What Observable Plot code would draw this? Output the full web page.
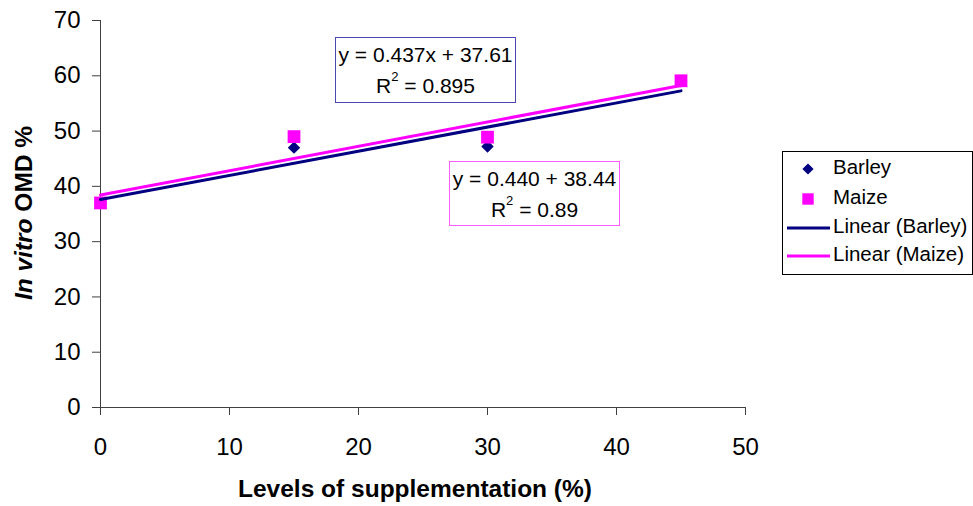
<!DOCTYPE html>
<html>
<head>
<meta charset="utf-8">
<script src="https://cdn.jsdelivr.net/npm/d3@7"></script>
<script src="https://cdn.jsdelivr.net/npm/@observablehq/plot@0.6"></script>
<style>
  html, body { margin: 0; padding: 0; background: #fff; }
  #chart svg { display: block; }
</style>
</head>
<body>
<div id="chart"></div>
<script>
// Supplementation levels (%) and in vitro OMD (%) for each supplement
const levels = [0, 15, 30, 45];
const barley = [37, 47, 47.2, 59];
const maize = [37, 49, 48.9, 59.1];

// Linear trend fits as reported on the chart
const barleyFit = { slope: 0.437, intercept: 37.61, r2: 0.895 };
const maizeFit = { slope: 0.440, intercept: 38.44, r2: 0.89 };
const fitRange = [0, 45];

const xTicks = [0, 10, 20, 30, 40, 50];
const yTicks = [0, 10, 20, 30, 40, 50, 60, 70];

const navy = "#000080";
const magenta = "#FF00FF";
const font = "'Liberation Sans', Arial, Helvetica, sans-serif";

const barleyPts = levels.map((x, i) => ({ x, y: barley[i] }));
const maizePts = levels.map((x, i) => ({ x, y: maize[i] }));
const fitLine = (f) => fitRange.map((x) => ({ x, y: f.intercept + f.slope * x }));

const svg = Plot.plot({
  width: 973,
  height: 506,
  marginLeft: 100,
  marginRight: 228,
  marginTop: 20,
  marginBottom: 99,
  style: { fontFamily: font, color: "#000", background: "#fff" },
  x: { domain: [0, 50] },
  y: { domain: [0, 70] },
  marks: [
    Plot.ruleX([0], { stroke: "#404040" }),
    Plot.ruleY([0], { stroke: "#404040" }),
    Plot.axisY({ ticks: yTicks, tickSize: 8, tickPadding: 12, label: null, stroke: "#404040", fontSize: 24 }),
    Plot.axisX({ ticks: xTicks, tickSize: 8, tickPadding: 22, label: null, stroke: "#404040", fontSize: 24 }),
    Plot.dot(barleyPts, { x: "x", y: "y", symbol: "diamond2", r: 5.6, fill: navy, stroke: null }),
    Plot.dot(maizePts, { x: "x", y: "y", symbol: "square", r: 7.2, fill: magenta, stroke: null }),
    Plot.line(fitLine(barleyFit), { x: "x", y: "y", stroke: navy, strokeWidth: 3 }),
    Plot.line(fitLine(maizeFit), { x: "x", y: "y", stroke: magenta, strokeWidth: 3 })
  ]
});

document.getElementById("chart").appendChild(svg);
const root = d3.select(svg);

// Axis titles
const yTitle = root.append("text")
  .attr("transform", "translate(26,213) rotate(-90)")
  .attr("text-anchor", "middle")
  .attr("dominant-baseline", "middle")
  .attr("font-weight", "bold")
  .attr("font-size", 24.5)
  .attr("fill", "#000");
yTitle.append("tspan").attr("font-style", "italic").text("In vitro");
yTitle.append("tspan").text(" OMD %");

root.append("text")
  .attr("x", 415).attr("y", 491)
  .attr("text-anchor", "middle")
  .attr("dominant-baseline", "middle")
  .attr("font-weight", "bold")
  .attr("font-size", 24.5)
  .attr("fill", "#000")
  .text("Levels of supplementation (%)");

// Trend equation boxes
function equationBox(x, y, w, h, color, eq, r2) {
  const g = root.append("g");
  g.append("rect").attr("x", x).attr("y", y).attr("width", w).attr("height", h)
    .attr("fill", "#fff").attr("stroke", color).attr("stroke-width", 1);
  g.append("text").attr("x", x + w / 2).attr("y", y + 19)
    .attr("text-anchor", "middle").attr("dominant-baseline", "middle")
    .attr("font-size", 21).attr("fill", "#000").text(eq);
  const t = g.append("text").attr("x", x + w / 2).attr("y", y + 49)
    .attr("text-anchor", "middle").attr("dominant-baseline", "middle")
    .attr("font-size", 21).attr("fill", "#000");
  t.append("tspan").text("R");
  t.append("tspan").attr("font-size", 13).attr("dy", -9).text("2");
  t.append("tspan").attr("dy", 9).text(" = " + r2);
}
equationBox(335.5, 37.5, 180, 65, "#4848b0",
  `y = ${barleyFit.slope.toFixed(3)}x + ${barleyFit.intercept.toFixed(2)}`, barleyFit.r2.toFixed(3));
equationBox(449.5, 161.5, 170, 64, "#ff5cff",
  `y = ${maizeFit.slope.toFixed(3)} + ${maizeFit.intercept.toFixed(2)}`, maizeFit.r2.toFixed(2));

// Legend
const legend = root.append("g");
legend.append("rect").attr("x", 782.5).attr("y", 151.5).attr("width", 190).attr("height", 123)
  .attr("fill", "#fff").attr("stroke", "#000").attr("stroke-width", 1);
const items = [
  { label: "Barley", kind: "diamond", color: navy, y: 169 },
  { label: "Maize", kind: "square", color: magenta, y: 199 },
  { label: "Linear (Barley)", kind: "line", color: navy, y: 228 },
  { label: "Linear (Maize)", kind: "line", color: magenta, y: 256 }
];
items.forEach((d) => {
  if (d.kind === "line") {
    legend.append("line").attr("x1", 787).attr("x2", 830).attr("y1", d.y).attr("y2", d.y)
      .attr("stroke", d.color).attr("stroke-width", 3);
  } else {
    const sym = d.kind === "diamond" ? d3.symbol(d3.symbolDiamond2, 80) : d3.symbol(d3.symbolSquare, 130);
    legend.append("path").attr("d", sym()).attr("transform", `translate(808,${d.y})`).attr("fill", d.color);
  }
  legend.append("text").attr("x", 833).attr("y", d.y)
    .attr("text-anchor", "start")
    .attr("dominant-baseline", "middle").attr("font-size", 20.5).attr("fill", "#000").text(d.label);
});
</script>
</body>
</html>
